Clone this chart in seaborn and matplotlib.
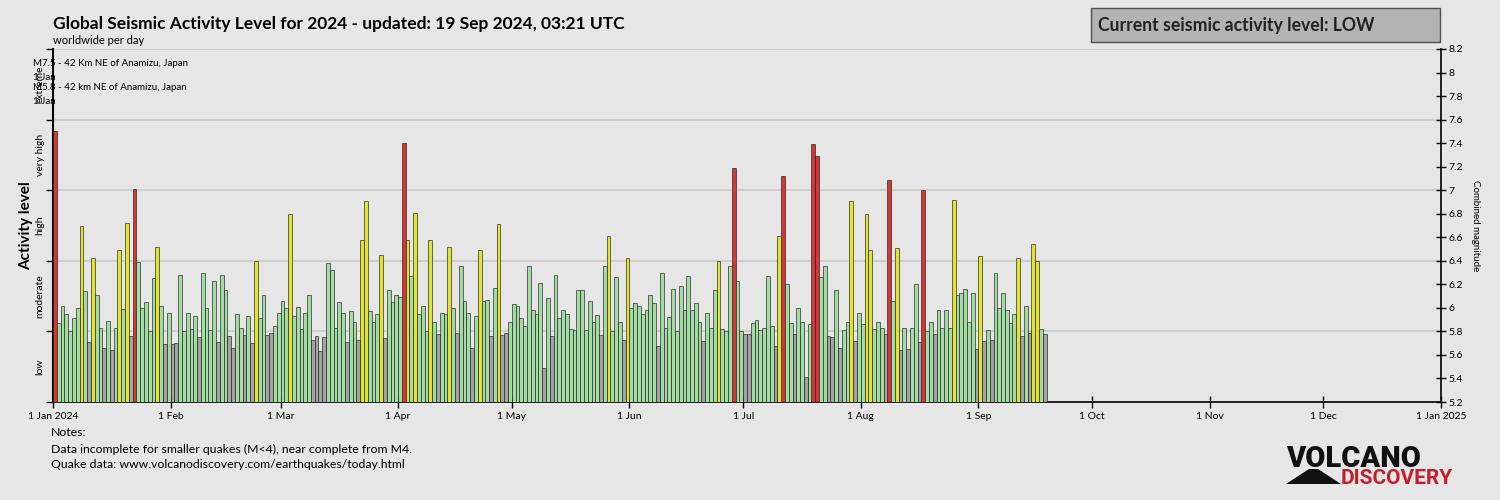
import matplotlib
matplotlib.use("Agg")
import matplotlib.pyplot as plt
import seaborn as sns
import pandas as pd
from matplotlib.patches import Rectangle, Polygon

# ---------------- data (combined magnitude per day, 2024) ----------------
jan = [7.50, 5.87, 6.02, 5.95, 5.80, 5.91, 6.00, 6.70, 6.14, 5.71,
       6.42, 6.11, 5.83, 5.66, 5.89, 5.64, 5.83, 6.49, 5.99, 6.72,
       5.76, 7.01, 6.39, 6.00, 6.05, 5.80, 6.25, 6.52, 6.02, 5.69, 5.96]
feb = [5.69, 5.70, 6.28, 5.80, 5.96, 5.82, 5.93, 5.75, 6.30,
       6.00, 5.81, 6.23, 5.71, 6.28, 6.15, 5.76, 5.66, 5.95, 5.83,
       5.77, 5.93, 5.70, 6.40, 5.91, 6.11, 5.77, 5.79, 5.85, 5.96]
mar = [6.06, 6.00, 6.80, 5.93, 6.01, 5.82, 5.96, 6.11, 5.73, 5.76,
       5.63, 5.75, 6.38, 6.32, 5.83, 6.05, 5.96, 5.71, 5.97, 5.88,
       5.73, 6.58, 6.91, 5.97, 5.88, 5.95, 6.45, 5.74, 6.15, 6.05, 6.11]
apr = [6.09, 7.40, 6.58, 6.27, 6.81, 5.95, 6.02, 5.80, 6.58,
       5.88, 5.78, 5.96, 5.95, 6.52, 6.00, 5.79, 6.36, 6.06, 5.96,
       5.66, 5.93, 6.49, 6.06, 6.07, 5.76, 6.17, 6.71, 5.77, 5.79, 5.88]
may = [6.03, 6.02, 5.91, 5.85, 6.36, 5.98, 5.95, 6.21, 5.49,
       6.08, 5.76, 6.28, 5.91, 5.98, 5.95, 5.82, 5.81, 6.15, 6.15,
       5.81, 6.06, 5.88, 5.94, 5.77, 6.36, 6.61, 5.80, 6.26, 5.88,
       5.73, 6.42]
jun = [6.00, 6.04, 6.02, 5.95, 5.98, 6.11, 6.04, 5.68,
       6.30, 5.83, 5.92, 6.16, 5.80, 6.19, 5.98, 6.27, 5.98, 6.04,
       5.88, 5.72, 5.96, 5.83, 6.15, 6.40, 5.82, 5.80, 6.36, 7.19,
       6.23, 5.80]
jul = [5.78, 5.78, 5.87, 5.90, 5.81, 5.83, 6.27, 5.85,
       5.68, 6.61, 7.12, 6.20, 5.87, 5.78, 6.00, 5.88, 5.41, 5.86,
       7.39, 7.29, 6.26, 6.36, 5.76, 5.75, 6.15, 5.66, 5.81, 5.88,
       6.91, 5.72, 5.96]
aug = [5.86, 6.80, 6.49, 5.82, 5.88, 5.83, 5.78,
       7.09, 6.06, 6.51, 5.64, 5.83, 5.65, 5.83, 6.20, 5.71, 7.00,
       5.80, 5.88, 5.78, 5.98, 5.83, 5.98, 5.83, 6.92, 6.11, 6.13,
       6.16, 5.88, 6.13, 5.65]
sep = [6.44, 5.72, 5.81, 5.73, 6.30, 6.00,
       6.13, 5.98, 5.87, 5.95, 6.42, 5.76, 6.02, 5.79, 6.54, 6.40,
       5.82, 5.78]

# r = red, y = yellow, g = green, s = grey
colors_jan = "rggggggygs" "yggsgsgygy" "srgggggygs" "g"
colors_feb = "ssgggggsg" "gggsggssgg" "sgsyggssgg"
colors_mar = "ggygggggss" "ssgggggsgg" "syygggysgg" "g"
colors_apr = "grygygggy" "gsggygsggg" "sgyggsgyss" "g"
colors_may = "ggggggggs" "gsgggggggg" "ggggsgyggg" "sy"
colors_jun = "gggggggs" "gggggggggg" "gsgggygggr" "gg"
colors_jul = "ssgggggg" "syrggsggsg" "rrggssgsgg" "ysg"
colors_aug = "gyygggs" "rgysgsggsr" "ggsggggygg" "gggs"
colors_sep = "ysgsgg" "ggggysgsyy" "gs"

month_ticks = [0, 31, 60, 91, 121, 152, 182, 213, 244, 274, 305, 335, 366]
month_labels = ["1 Jan 2024", "1 Feb", "1 Mar", "1 Apr", "1 May", "1 Jun",
                "1 Jul", "1 Aug", "1 Sep", "1 Oct", "1 Nov", "1 Dec",
                "1 Jan 2025"]
level_ticks = [5.5, 6.1, 6.7, 7.3, 7.9]
level_labels = ["low", "moderate", "high", "very high", "extreme"]

values = jan + feb + mar + apr + may + jun + jul + aug + sep
codes = (colors_jan + colors_feb + colors_mar + colors_apr + colors_may +
         colors_jun + colors_jul + colors_aug + colors_sep)
assert len(values) == len(codes)

df = pd.DataFrame({"day": [i + 0.5 for i in range(len(values))],
                   "mag": values, "cls": list(codes)})
palette = {"r": "#ee1c1c", "y": "#ffff14", "g": "#98e698", "s": "#a3a3a3"}

# ---------------- figure ----------------
BG = "#e6e6e6"
fig = plt.figure(figsize=(15, 5), dpi=100, facecolor=BG)
plt.rcParams["font.family"] = ["Lato", "DejaVu Sans"]


def px(x, y):
    return (x / 1500, 1 - y / 500)


ax = fig.add_axes([53 / 1500, 98 / 500, 1388 / 1500, 353 / 500])
ax.set_facecolor(BG)

sns.barplot(data=df, x="day", y="mag", hue="cls", palette=palette,
            native_scale=True, dodge=False, width=1.0, errorbar=None,
            legend=False, edgecolor=(0.12, 0.12, 0.12, 0.65), linewidth=0.7,
            ax=ax, zorder=3)

ax.set_xlim(0, 366)
ax.set_ylim(5.2, 8.2)
ax.set_xticks(month_ticks)
ax.set_xticklabels(month_labels, fontsize=7.5)
ax.tick_params(axis="x", direction="inout", length=8, width=1, pad=3,
               colors="black")
ax.set_xlabel("")

ax.set_yticks([5.2, 5.8, 6.4, 7.0, 7.6, 8.2])
ax.set_yticklabels([])
ax.set_yticks(level_ticks, minor=True)
ax.set_yticklabels(level_labels, minor=True, rotation=90, va="center",
                   fontsize=7.5)
ax.tick_params(axis="y", which="major", direction="out", length=5, width=1)
ax.tick_params(axis="y", which="minor", length=0, pad=6)
ax.set_ylabel("Activity level", fontsize=11, fontweight="bold",
              labelpad=2)
ax.yaxis.grid(True, which="major", color="#c9c9c9", lw=1.2, zorder=0)
ax.set_axisbelow(True)

ax.spines["top"].set_visible(False)
ax.spines["left"].set_color("black")
ax.spines["left"].set_linewidth(1.5)
ax.spines["bottom"].set_color("black")
ax.spines["bottom"].set_linewidth(1.2)
ax.spines["right"].set_visible(False)

ax2 = ax.twinx()
ax2.set_ylim(5.2, 8.2)
rticks = [round(5.2 + 0.2 * i, 1) for i in range(16)]
ax2.set_yticks(rticks)
ax2.set_yticklabels([("%g" % t) for t in rticks], fontsize=7.5)
ax2.tick_params(axis="y", direction="inout", length=7, width=1, pad=2)
ax2.set_ylabel("Combined magnitude", fontsize=7, rotation=270, labelpad=12)
for s in ["top", "left", "bottom"]:
    ax2.spines[s].set_visible(False)
ax2.spines["right"].set_color("black")
ax2.spines["right"].set_linewidth(1.2)

# ---------------- texts ----------------
fig.text(*px(53, 24), "Global Seismic Activity Level for 2024 - updated: 19 Sep 2024, 03:21 UTC",
         fontsize=12.5, fontweight="bold", va="center", ha="left")
fig.text(*px(53, 40), "worldwide per day", fontsize=8, va="center", ha="left")

fig.add_artist(Rectangle(px(1091, 42), 349 / 1500, 34 / 500,
                         transform=fig.transFigure, fc="#b3b3b3",
                         ec="#505050", lw=1))
fig.text(*px(1098, 25), "Current seismic activity level: LOW",
         fontsize=12.7, fontweight="bold", va="center", ha="left",
         color="#222222")

fig.text(*px(33, 64), "M7.5 - 42 Km NE of Anamizu, Japan", fontsize=7,
         va="center", ha="left")
fig.text(*px(33, 77), "1 Jan", fontsize=7, va="center", ha="left")
fig.text(*px(33, 88), "M5.8 - 42 km NE of Anamizu, Japan", fontsize=7,
         va="center", ha="left")
fig.text(*px(33, 101), "1 Jan", fontsize=7, va="center", ha="left")

fig.text(*px(51, 433), "Notes:", fontsize=8.8, va="center", ha="left")
fig.text(*px(51, 449),
         "Data incomplete for smaller quakes (M<4), near complete from M4.",
         fontsize=8.8, va="center", ha="left")
fig.text(*px(51, 464),
         "Quake data: www.volcanodiscovery.com/earthquakes/today.html",
         fontsize=8.8, va="center", ha="left")

# logo
fig.text(*px(1286, 459), "VOLCANO", fontsize=21, fontweight="heavy",
         family=["Roboto", "DejaVu Sans"], va="center", ha="left",
         color="#111111")
fig.text(*px(1341, 478), "DISCOVERY", fontsize=15, fontweight="bold",
         family=["Roboto", "DejaVu Sans"], va="center", ha="left",
         color="#c41e2a")
fig.add_artist(Polygon([px(1286, 484), px(1309, 469), px(1318, 469),
                        px(1341, 484)], closed=True,
                       transform=fig.transFigure, fc="#111111", ec="none"))

fig.savefig("out.png", dpi=100, facecolor=BG)
